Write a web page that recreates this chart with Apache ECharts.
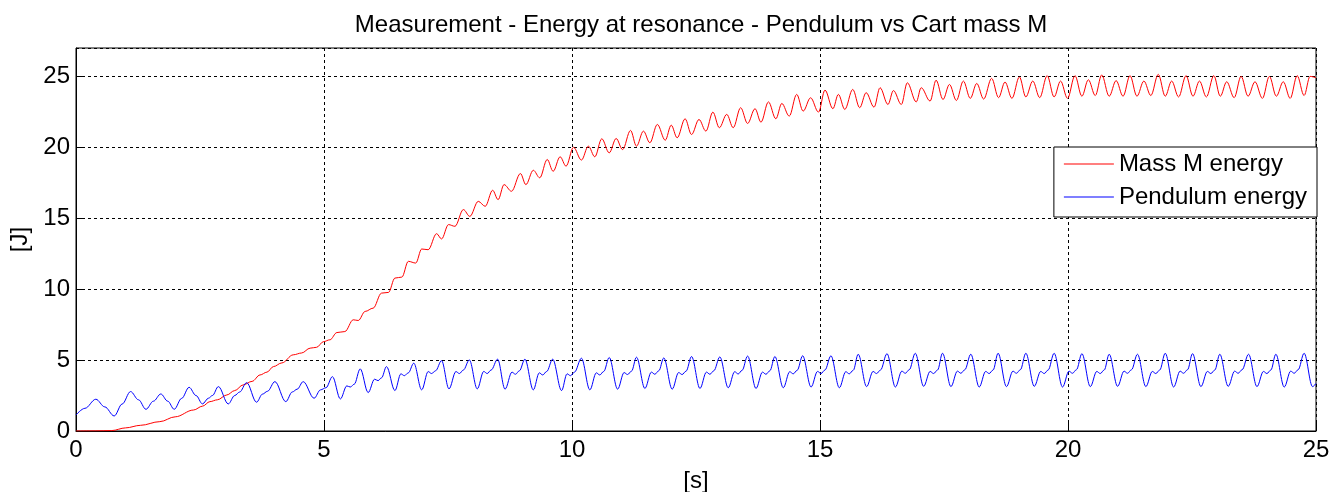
<!DOCTYPE html>
<html>
<head>
<meta charset="utf-8">
<script src="https://cdn.jsdelivr.net/npm/echarts@6/dist/echarts.min.js"></script>
<style>
html,body{margin:0;padding:0;background:#fff;}
#chart{width:1344px;height:492px;}
</style>
</head>
<body>
<div id="chart"></div>
<script>
const titleText = "Measurement - Energy at resonance - Pendulum vs Cart mass M";
const xName = "[s]";
const yName = "[J]";
const seriesNames = ["Mass M energy", "Pendulum energy"];
const xTicks = [0, 5, 10, 15, 20, 25];
const yTicks = [0, 5, 10, 15, 20, 25];

// Mass M energy: [time s, energy J] read at peaks/troughs of the trace
const massEnergy = [
[0,0],[0.4,0.01],[0.72,0.03],[1.0,0.22],[1.3,0.4],[1.69,0.66],[2.0,1.0],[2.37,1.48],[2.55,1.75],[2.70,2.07],[2.85,2.2],[3.04,2.54],[3.2,2.85],[3.37,3.25],[3.55,3.5],[3.71,3.95],[3.85,4.15],[3.98,4.54],[4.15,4.8],[4.38,5.37],[4.55,5.5],[4.72,5.84],[4.85,5.9],[4.99,6.3],[5.12,6.43],[5.26,6.94],[5.42,7.01],[5.59,7.84],[5.69,7.79],[5.83,8.43],[5.99,8.66],[6.16,9.72],[6.30,9.77],[6.43,10.78],[6.57,10.85],[6.70,11.96],[6.85,11.84],[6.97,12.83],[7.10,12.78],[7.27,13.91],[7.37,13.54],[7.51,14.55],[7.64,14.43],[7.81,15.61],[7.94,15.13],[8.11,16.19],[8.25,15.84],[8.40,16.97],[8.51,16.31],[8.63,17.37],[8.78,16.9],[8.96,18.15],[9.07,17.37],[9.22,18.38],[9.35,17.85],[9.50,19.14],[9.62,18.31],[9.76,19.33],[9.88,18.67],
[10.03,20.0],[10.19,19.1],[10.33,20.08],[10.46,19.33],[10.60,20.6],[10.75,19.61],[10.89,20.62],[11.02,19.84],[11.18,21.19],[11.30,20.08],[11.44,21.14],[11.57,20.32],[11.72,21.61],[11.88,20.5],[12.00,21.56],[12.12,20.67],[12.28,22.01],[12.41,20.9],[12.56,21.96],[12.70,21.14],[12.84,22.48],[12.97,21.38],[13.12,22.32],[13.25,21.38],[13.40,22.79],[13.54,21.68],[13.69,22.72],[13.81,21.77],[13.96,23.2],[14.11,22.01],[14.23,23.09],[14.38,22.2],[14.53,23.73],[14.66,22.55],[14.81,23.49],[14.97,22.48],
[15.10,24.03],[15.26,22.72],[15.37,23.73],[15.50,22.67],[15.66,24.08],[15.80,22.79],[15.93,23.85],[16.09,22.83],[16.21,24.2],[16.37,23.02],[16.48,24.0],[16.64,23.02],[16.76,24.55],[16.94,23.2],[17.04,24.2],[17.22,23.26],[17.34,24.73],[17.48,23.37],[17.61,24.43],[17.75,23.3],[17.89,24.67],[18.03,23.45],[18.16,24.5],[18.30,23.4],[18.46,24.86],[18.60,23.5],[18.73,24.6],[18.87,23.45],[19.02,24.96],[19.15,23.55],[19.29,24.67],[19.43,23.5],[19.58,25.05],[19.72,23.55],[19.85,24.67],[19.99,23.45],
[20.14,25.05],[20.28,23.6],[20.41,24.76],[20.55,23.65],[20.68,25.1],[20.83,23.6],[20.97,24.7],[21.11,23.6],[21.25,25.05],[21.39,23.6],[21.53,24.67],[21.67,23.65],[21.82,25.14],[21.96,23.6],[22.09,24.67],[22.23,23.55],[22.38,25.05],[22.52,23.6],[22.65,24.67],[22.79,23.55],[22.94,25.05],[23.07,23.6],[23.20,24.62],[23.35,23.5],[23.49,25.0],[23.63,23.6],[23.77,24.62],[23.92,23.45],[24.06,25.0],[24.20,23.6],[24.34,24.62],[24.48,23.45],[24.62,25.05],[24.76,23.65],[24.88,25.0],[25.0,24.9]
];

// Pendulum energy: [time s, energy J]
const pendulumEnergy = [
[0,1.13],[0.18,1.6],[0.40,2.24],[0.58,1.7],[0.77,1.06],[0.93,1.9],[1.10,2.78],[1.26,2.2],[1.41,1.53],[1.56,2.1],[1.71,2.61],[1.85,2.1],[1.98,1.53],[2.13,2.3],[2.28,3.08],[2.42,2.5],[2.55,1.91],[2.67,2.31],[2.75,2.5],[2.87,3.13],[3.07,1.91],[3.20,2.5],[3.30,2.75],[3.44,3.41],[3.64,2.03],[3.76,2.6],[3.86,2.8],[4.01,3.48],[4.23,2.07],[4.36,2.75],[4.46,2.95],[4.58,3.48],[4.80,2.31],[4.93,2.9],[5.04,3.05],
[5.17,3.83],[5.33,2.26],[5.46,3.18],[5.53,3.1],[5.61,3.3],
[5.73,4.38],[5.89,2.71],[6.02,3.65],[6.09,3.55],[6.16,3.75],
[6.26,4.54],[6.43,2.85],[6.55,4.03],[6.62,3.9],[6.70,4.1],
[6.81,4.78],[6.97,2.90],[7.10,4.19],[7.17,4.05],[7.25,4.25],
[7.37,4.96],[7.52,2.97],[7.66,4.19],[7.73,4.05],[7.81,4.3],
[7.93,5.01],[8.09,2.97],[8.22,4.2],[8.29,4.05],[8.37,4.3],
[8.50,5.06],[8.65,2.95],[8.79,4.15],[8.86,4.0],[8.94,4.25],
[9.05,5.06],[9.22,2.90],[9.34,4.1],[9.41,3.95],[9.49,4.2],
[9.61,5.06],[9.79,2.85],[9.90,4.03],[9.97,3.9],[10.05,4.15],
[10.19,5.13],[10.36,2.90],[10.49,4.10],[10.56,3.95],[10.64,4.20],
[10.75,5.18],[10.92,2.95],[11.05,4.12],[11.12,3.98],[11.20,4.22],
[11.30,5.20],[11.47,3.00],[11.60,4.15],[11.67,4.00],[11.75,4.25],
[11.85,5.15],[12.02,2.95],[12.15,4.12],[12.22,3.98],[12.30,4.22],
[12.41,5.25],[12.58,3.00],[12.71,4.15],[12.78,4.00],[12.86,4.25],
[12.98,5.22],[13.15,3.05],[13.28,4.18],[13.35,4.02],[13.43,4.28],
[13.54,5.28],[13.71,3.00],[13.84,4.15],[13.91,4.00],[13.99,4.25],
[14.09,5.25],[14.26,3.05],[14.39,4.18],[14.46,4.03],[14.54,4.28],
[14.65,5.30],[14.82,3.10],[14.95,4.20],[15.02,4.05],[15.10,4.30],
[15.22,5.30],[15.39,3.05],[15.52,4.18],[15.59,4.03],[15.67,4.28],
[15.77,5.41],[15.94,3.13],[16.07,4.20],[16.14,4.05],[16.22,4.30],
[16.35,5.45],[16.52,3.10],[16.65,4.22],[16.72,4.07],[16.80,4.32],
[16.92,5.48],[17.09,3.15],[17.22,4.20],[17.29,4.05],[17.37,4.30],
[17.47,5.48],[17.64,3.13],[17.77,4.22],[17.84,4.07],[17.92,4.32],
[18.04,5.41],[18.21,3.10],[18.34,4.20],[18.41,4.05],[18.49,4.30],
[18.59,5.48],[18.76,3.13],[18.89,4.22],[18.96,4.07],[19.04,4.32],
[19.15,5.48],[19.32,3.15],[19.45,4.20],[19.52,4.05],[19.60,4.30],
[19.72,5.48],[19.89,3.10],[20.02,4.22],[20.09,4.07],[20.17,4.32],
[20.28,5.45],[20.45,3.13],[20.58,4.20],[20.65,4.05],[20.73,4.30],
[20.83,5.41],[21.00,3.15],[21.13,4.22],[21.20,4.07],[21.28,4.32],
[21.40,5.41],[21.57,3.13],[21.70,4.20],[21.77,4.05],[21.85,4.30],
[21.96,5.48],[22.13,3.10],[22.26,4.22],[22.33,4.07],[22.41,4.32],
[22.51,5.45],[22.68,3.13],[22.81,4.20],[22.88,4.05],[22.96,4.30],
[23.06,5.41],[23.23,3.15],[23.36,4.22],[23.43,4.07],[23.51,4.32],
[23.64,5.41],[23.81,3.13],[23.94,4.20],[24.01,4.05],[24.09,4.30],
[24.19,5.41],[24.36,3.10],[24.49,4.22],[24.56,4.07],[24.64,4.32],
[24.76,5.48],[24.93,3.13],[25.0,3.35]
];

const FONT = "'Liberation Sans', Arial, sans-serif";
const chart = echarts.init(document.getElementById('chart'), null, {renderer: 'canvas'});
const option = {
  backgroundColor: '#ffffff',
  animation: false,
  title: {
    text: titleText,
    left: 696, top: 8, textAlign: 'center',
    textStyle: {fontFamily: FONT, fontSize: 24, fontWeight: 'normal', color: '#000'}
  },
  legend: {
    data: seriesNames,
    orient: 'vertical',
    right: 27, top: 147,
    backgroundColor: '#fff',
    borderColor: '#000', borderWidth: 1, borderRadius: 0,
    padding: [4, 10, 7, 10],
    icon: 'rect',
    itemWidth: 50, itemHeight: 1, itemGap: 7,
    textStyle: {fontFamily: FONT, fontSize: 24, color: '#000', lineHeight: 26}
  },
  grid: {
    left: 76, right: 28, top: 48, bottom: 61,
    containLabel: false, outerBoundsMode: 'none',
    show: true, borderColor: '#000', borderWidth: 1, backgroundColor: 'transparent'
  },
  xAxis: {
    type: 'value', min: xTicks[0], max: xTicks[xTicks.length - 1], interval: 5,
    name: xName, nameLocation: 'middle', nameGap: 38,
    nameTextStyle: {fontFamily: FONT, fontSize: 24, color: '#000'},
    axisLine: {lineStyle: {color: '#000', width: 1}},
    axisTick: {inside: true, length: 8, lineStyle: {color: '#000'}},
    axisLabel: {fontFamily: FONT, fontSize: 24, color: '#000', margin: 7},
    splitLine: {show: true, lineStyle: {color: '#000', type: [3, 3], width: 1}}
  },
  yAxis: {
    type: 'value', min: yTicks[0], max: 27, interval: 5,
    name: yName, nameLocation: 'middle', nameGap: 44,
    nameTextStyle: {fontFamily: FONT, fontSize: 24, color: '#000'},
    axisLine: {show: true, lineStyle: {color: '#000', width: 1}},
    axisTick: {show: true, inside: true, length: 8, lineStyle: {color: '#000'}},
    axisLabel: {fontFamily: FONT, fontSize: 24, color: '#000', margin: 6, showMaxLabel: false,
      formatter: v => (yTicks.indexOf(v) >= 0 ? String(v) : '')},
    splitLine: {show: true, lineStyle: {color: '#000', type: [3, 3], width: 1}}
  },
  series: [
    {
      name: seriesNames[0], type: 'line', data: massEnergy,
      symbol: 'none', smooth: 0.35, smoothMonotone: 'x',
      lineStyle: {color: '#ff0000', width: 1}, itemStyle: {color: '#ff0000'}, z: 3
    },
    {
      name: seriesNames[1], type: 'line', data: pendulumEnergy,
      symbol: 'none', smooth: 0.35, smoothMonotone: 'x',
      lineStyle: {color: '#0000ff', width: 1}, itemStyle: {color: '#0000ff'}, z: 3
    }
  ]
};
chart.setOption(option);
</script>
</body>
</html>
